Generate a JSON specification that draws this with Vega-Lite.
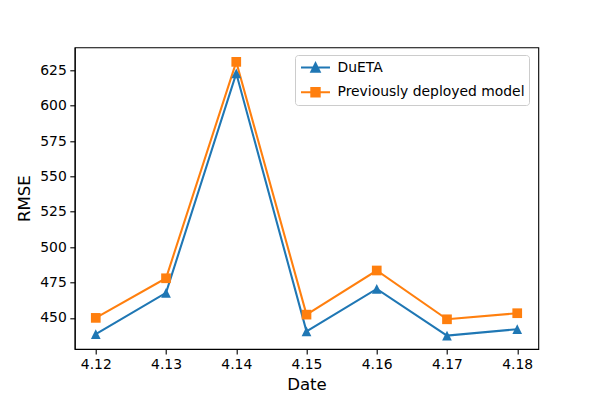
{
  "$schema": "https://vega.github.io/schema/vega-lite/v6.json",
  "autosize": {"type": "none"},
  "padding": {"left": 74.7, "top": 47.3, "right": 59.7, "bottom": 50},
  "width": 463.6,
  "height": 301.7,
  "background": "white",
  "config": {
    "font": "DejaVu Sans",
    "view": {"stroke": "black", "strokeWidth": 1.1},
    "axis": {
      "grid": false,
      "domainColor": "black",
      "domainWidth": 1.1,
      "tickColor": "black",
      "tickWidth": 1.1,
      "tickSize": 4.9,
      "labelColor": "black",
      "labelFont": "DejaVu Sans",
      "labelFontSize": 13.9,
      "labelPadding": 3.5,
      "titleColor": "black",
      "titleFont": "DejaVu Sans",
      "titleFontSize": 16.6,
      "titleFontWeight": "normal"
    }
  },
  "data": {
    "values": [
      {"date": 4.12, "rmse": 438.5, "model": "DuETA"},
      {"date": 4.13, "rmse": 467.7, "model": "DuETA"},
      {"date": 4.14, "rmse": 622.9, "model": "DuETA"},
      {"date": 4.15, "rmse": 440.5, "model": "DuETA"},
      {"date": 4.16, "rmse": 470.5, "model": "DuETA"},
      {"date": 4.17, "rmse": 437.5, "model": "DuETA"},
      {"date": 4.18, "rmse": 442.0, "model": "DuETA"},
      {"date": 4.12, "rmse": 450.0, "model": "Previously deployed model"},
      {"date": 4.13, "rmse": 478.0, "model": "Previously deployed model"},
      {"date": 4.14, "rmse": 631.0, "model": "Previously deployed model"},
      {"date": 4.15, "rmse": 452.3, "model": "Previously deployed model"},
      {"date": 4.16, "rmse": 483.5, "model": "Previously deployed model"},
      {"date": 4.17, "rmse": 449.0, "model": "Previously deployed model"},
      {"date": 4.18, "rmse": 453.3, "model": "Previously deployed model"}
    ]
  },
  "encoding": {
    "x": {
      "field": "date", "type": "quantitative", "title": "Date",
      "scale": {"domain": [4.117, 4.183], "nice": false, "zero": false},
      "axis": {"values": [4.12, 4.13, 4.14, 4.15, 4.16, 4.17, 4.18], "format": ".2f", "titlePadding": 5}
    },
    "y": {
      "field": "rmse", "type": "quantitative", "title": "RMSE",
      "scale": {"domain": [428, 641.3], "nice": false, "zero": false},
      "axis": {"values": [450, 475, 500, 525, 550, 575, 600, 625], "titlePadding": 7}
    },
    "color": {
      "field": "model", "type": "nominal",
      "scale": {"domain": ["DuETA", "Previously deployed model"], "range": ["#1f77b4", "#ff7f0e"]},
      "legend": {
        "title": null,
        "orient": "none",
        "legendX": 220.3,
        "legendY": 7.7,
        "padding": 4.5,
        "rowPadding": 6.7,
        "strokeColor": "#cccccc",
        "fillColor": "rgba(255,255,255,0.8)",
        "cornerRadius": 3,
        "labelFont": "DejaVu Sans",
        "labelFontSize": 13.9,
        "labelColor": "black",
        "labelLimit": 0,
        "labelOffset": 14,
        "symbolOffset": 8,
        "symbolSize": 196,
        "encode": {
          "symbols": {
            "update": {
              "shape": {"signal": "datum.value === 'DuETA' ? 'M-2.07,0H2.07M0,-0.6L0.6,0.6L-0.6,0.6Z' : 'M-2.07,0H2.07M-0.6,-0.6H0.6V0.6H-0.6Z'"},
              "fill": {"scale": "color", "field": "value"},
              "stroke": {"scale": "color", "field": "value"},
              "strokeWidth": {"value": 2},
              "size": {"value": 196},
              "opacity": {"value": 1},
              "fillOpacity": {"value": 1}
            }
          }
        }
      }
    }
  },
  "layer": [
    {"mark": {"type": "line", "strokeWidth": 2.08}},
    {
      "transform": [{"filter": "datum.model === 'DuETA'"}],
      "mark": {"type": "point", "filled": true, "size": 94, "opacity": 1, "shape": "M0,-1L1,1L-1,1Z"}
    },
    {
      "transform": [{"filter": "datum.model !== 'DuETA'"}],
      "mark": {"type": "point", "filled": true, "size": 94, "opacity": 1, "shape": "M-1,-1H1V1H-1Z"}
    }
  ]
}
